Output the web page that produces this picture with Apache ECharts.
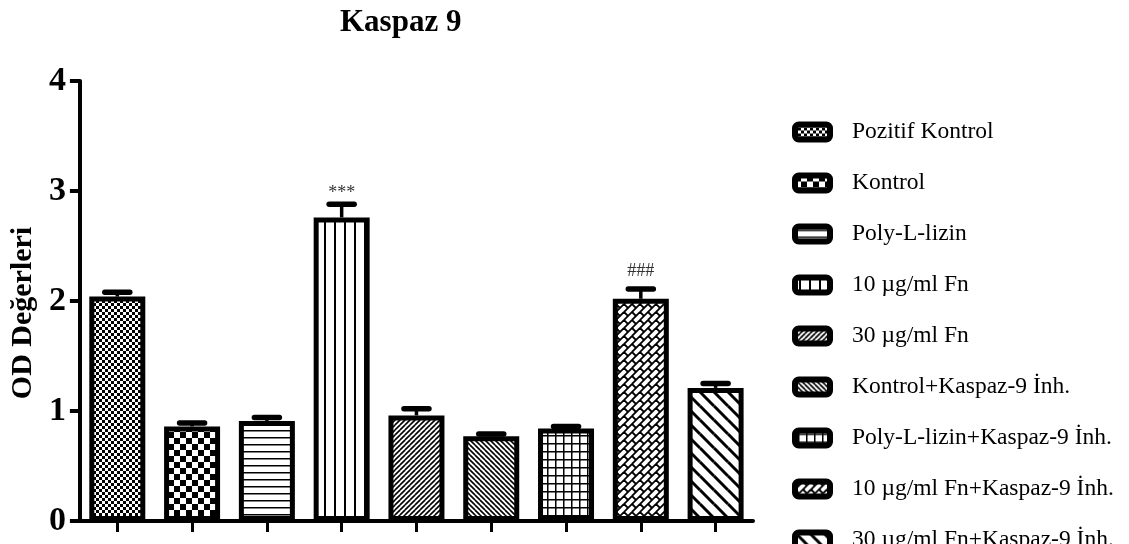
<!DOCTYPE html>
<html>
<head>
<meta charset="utf-8">
<script src="https://cdn.jsdelivr.net/npm/echarts@6/dist/echarts.min.js"></script>
<style>
  html, body { margin: 0; padding: 0; background: #fff; }
  #chart { width: 1129px; height: 544px; }
</style>
</head>
<body>
<div id="chart"></div>
<script>
// Groups, mean OD values, SEM and significance marks
const groups = [
  'Pozitif Kontrol',
  'Kontrol',
  'Poly-L-lizin',
  '10 µg/ml Fn',
  '30 µg/ml Fn',
  'Kontrol+Kaspaz-9 İnh.',
  'Poly-L-lizin+Kaspaz-9 İnh.',
  '10 µg/ml Fn+Kaspaz-9 İnh.',
  '30 µg/ml Fn+Kaspaz-9 İnh.'
];
const means  = [2.04, 0.86, 0.91, 2.76, 0.96, 0.77, 0.84, 2.02, 1.21];
const errors = [0.04, 0.03, 0.03, 0.12, 0.06, 0.02, 0.02, 0.09, 0.04];
const marks  = ['', '', '', '***', '', '', '', '###', ''];
const yTickLabels = ['0', '1', '2', '3', '4'];

const FONT = '"Liberation Serif", "Times New Roman", serif';

// ---- fill patterns (black on white tiles) ----
function tile(w, h, draw) {
  const c = document.createElement('canvas');
  c.width = w; c.height = h;
  const g = c.getContext('2d');
  g.fillStyle = '#fff';
  g.fillRect(0, 0, w, h);
  g.fillStyle = '#000';
  g.strokeStyle = '#000';
  draw(g, w, h);
  return { image: c, repeat: 'repeat' };
}
// segment drawn with wrap-around so the tile repeats seamlessly
function seg(g, w, h, x1, y1, x2, y2) {
  for (let i = -1; i <= 1; i++) {
    for (let j = -1; j <= 1; j++) {
      g.beginPath();
      g.moveTo(x1 + i * w, y1 + j * h);
      g.lineTo(x2 + i * w, y2 + j * h);
      g.stroke();
    }
  }
}

const patterns = [
  // fine checkerboard
  tile(6, 6, g => { g.fillRect(0, 0, 3, 3); g.fillRect(3, 3, 3, 3); }),
  // coarse checkerboard
  tile(12, 12, g => { g.fillRect(0, 0, 6, 6); g.fillRect(6, 6, 6, 6); }),
  // horizontal lines
  tile(7, 7, g => { g.fillRect(0, 3, 7, 1.5); }),
  // vertical lines
  tile(10, 10, g => { g.fillRect(4, 0, 2, 10); }),
  // fine forward diagonals
  tile(5, 5, (g, w, h) => { g.lineWidth = 1.6; seg(g, w, h, 0, 5, 5, 0); }),
  // fine back diagonals
  tile(5, 5, (g, w, h) => { g.lineWidth = 1.6; seg(g, w, h, 0, 0, 5, 5); }),
  // square grid
  tile(8, 8, g => { g.fillRect(0, 3, 8, 1.5); g.fillRect(3, 0, 1.5, 8); }),
  // diagonal brick
  tile(16, 16, (g, w, h) => {
    g.lineWidth = 1.8;
    seg(g, w, h, 0, 16, 16, 0);
    seg(g, w, h, 0, 8, 8, 0);
    seg(g, w, h, 8, 16, 16, 8);
    seg(g, w, h, 0, 0, 4, 4);
    seg(g, w, h, 8, 8, 12, 12);
    seg(g, w, h, 8, 0, 12, 4);
    seg(g, w, h, 0, 8, 4, 12);
  }),
  // wide back diagonals
  tile(14, 14, (g, w, h) => { g.lineWidth = 3; seg(g, w, h, 0, 0, 14, 14); })
];

// one bar series per group so every group gets its own legend entry
const barSeries = groups.map((name, i) => ({
  name: name,
  type: 'bar',
  stack: 'groups',
  barWidth: 56,
  data: means.map((v, j) => (j === i ? v : '-')),
  itemStyle: { color: patterns[i], borderColor: '#000', borderWidth: 5 },
  emphasis: { disabled: true },
  z: 2
}));

// upper error bars with caps and significance marks
const errorSeries = {
  type: 'custom',
  name: 'SEM',
  data: means.map((m, i) => [i, m, m + errors[i]]),
  z: 3,
  silent: true,
  renderItem: function (params, api) {
    const x = api.value(0);
    const low = api.coord([x, api.value(1)]);
    const high = api.coord([x, api.value(2)]);
    const mark = marks[params.dataIndex];
    const children = [
      {
        type: 'line',
        shape: { x1: low[0], y1: low[1], x2: high[0], y2: high[1] },
        style: { stroke: '#000', lineWidth: 3.5 }
      },
      {
        type: 'line',
        shape: { x1: high[0] - 12.5, y1: high[1], x2: high[0] + 12.5, y2: high[1] },
        style: { stroke: '#000', lineWidth: 5.5, lineCap: 'round' }
      }
    ];
    if (mark) {
      children.push({
        type: 'text',
        style: {
          text: mark,
          x: high[0],
          y: high[1] - (mark === '***' ? 2 : 9),
          align: 'center',
          verticalAlign: 'bottom',
          fill: '#333',
          font: '18px ' + FONT
        }
      });
    }
    return { type: 'group', children: children };
  }
};

const chart = echarts.init(document.getElementById('chart'), null, { renderer: 'canvas' });
chart.setOption({
  animation: false,
  backgroundColor: '#fff',
  title: {
    text: 'Kaspaz 9',
    left: 335,
    top: 2,
    textStyle: { fontFamily: FONT, fontWeight: 'bold', fontSize: 31, color: '#000' }
  },
  legend: {
    data: groups,
    orient: 'vertical',
    left: 787,
    top: 115,
    height: 440,
    itemWidth: 35,
    itemHeight: 15,
    itemGap: 27,
    icon: 'roundRect',
    selectedMode: false,
    itemStyle: { borderColor: '#000', borderWidth: 6 },
    textStyle: { fontFamily: FONT, fontSize: 23.5, lineHeight: 23, color: '#000', padding: [0, 0, 0, 17] }
  },
  grid: { left: 79.5, right: 376, top: 81, bottom: 23, containLabel: false },
  xAxis: {
    type: 'category',
    data: groups,
    axisLine: { show: true, lineStyle: { color: '#000', width: 4 } },
    axisTick: { show: true, alignWithLabel: true, interval: 0, length: 11, lineStyle: { color: '#000', width: 3 } },
    axisLabel: { show: false },
    splitLine: { show: false }
  },
  yAxis: {
    type: 'value',
    min: 0,
    max: 4,
    interval: 1,
    name: 'OD Değerleri',
    nameLocation: 'middle',
    nameGap: 34,
    nameTextStyle: { fontFamily: FONT, fontWeight: 'bold', fontSize: 30, color: '#000', padding: [0, 24, 0, 0] },
    axisLine: { show: true, lineStyle: { color: '#000', width: 4 } },
    axisTick: { show: true, length: 10, lineStyle: { color: '#000', width: 4 } },
    axisLabel: {
      fontFamily: FONT, fontWeight: 'bold', fontSize: 34, color: '#000', margin: 14,
      formatter: v => yTickLabels[v]
    },
    splitLine: { show: false }
  },
  series: barSeries.concat([errorSeries])
});
</script>
</body>
</html>
